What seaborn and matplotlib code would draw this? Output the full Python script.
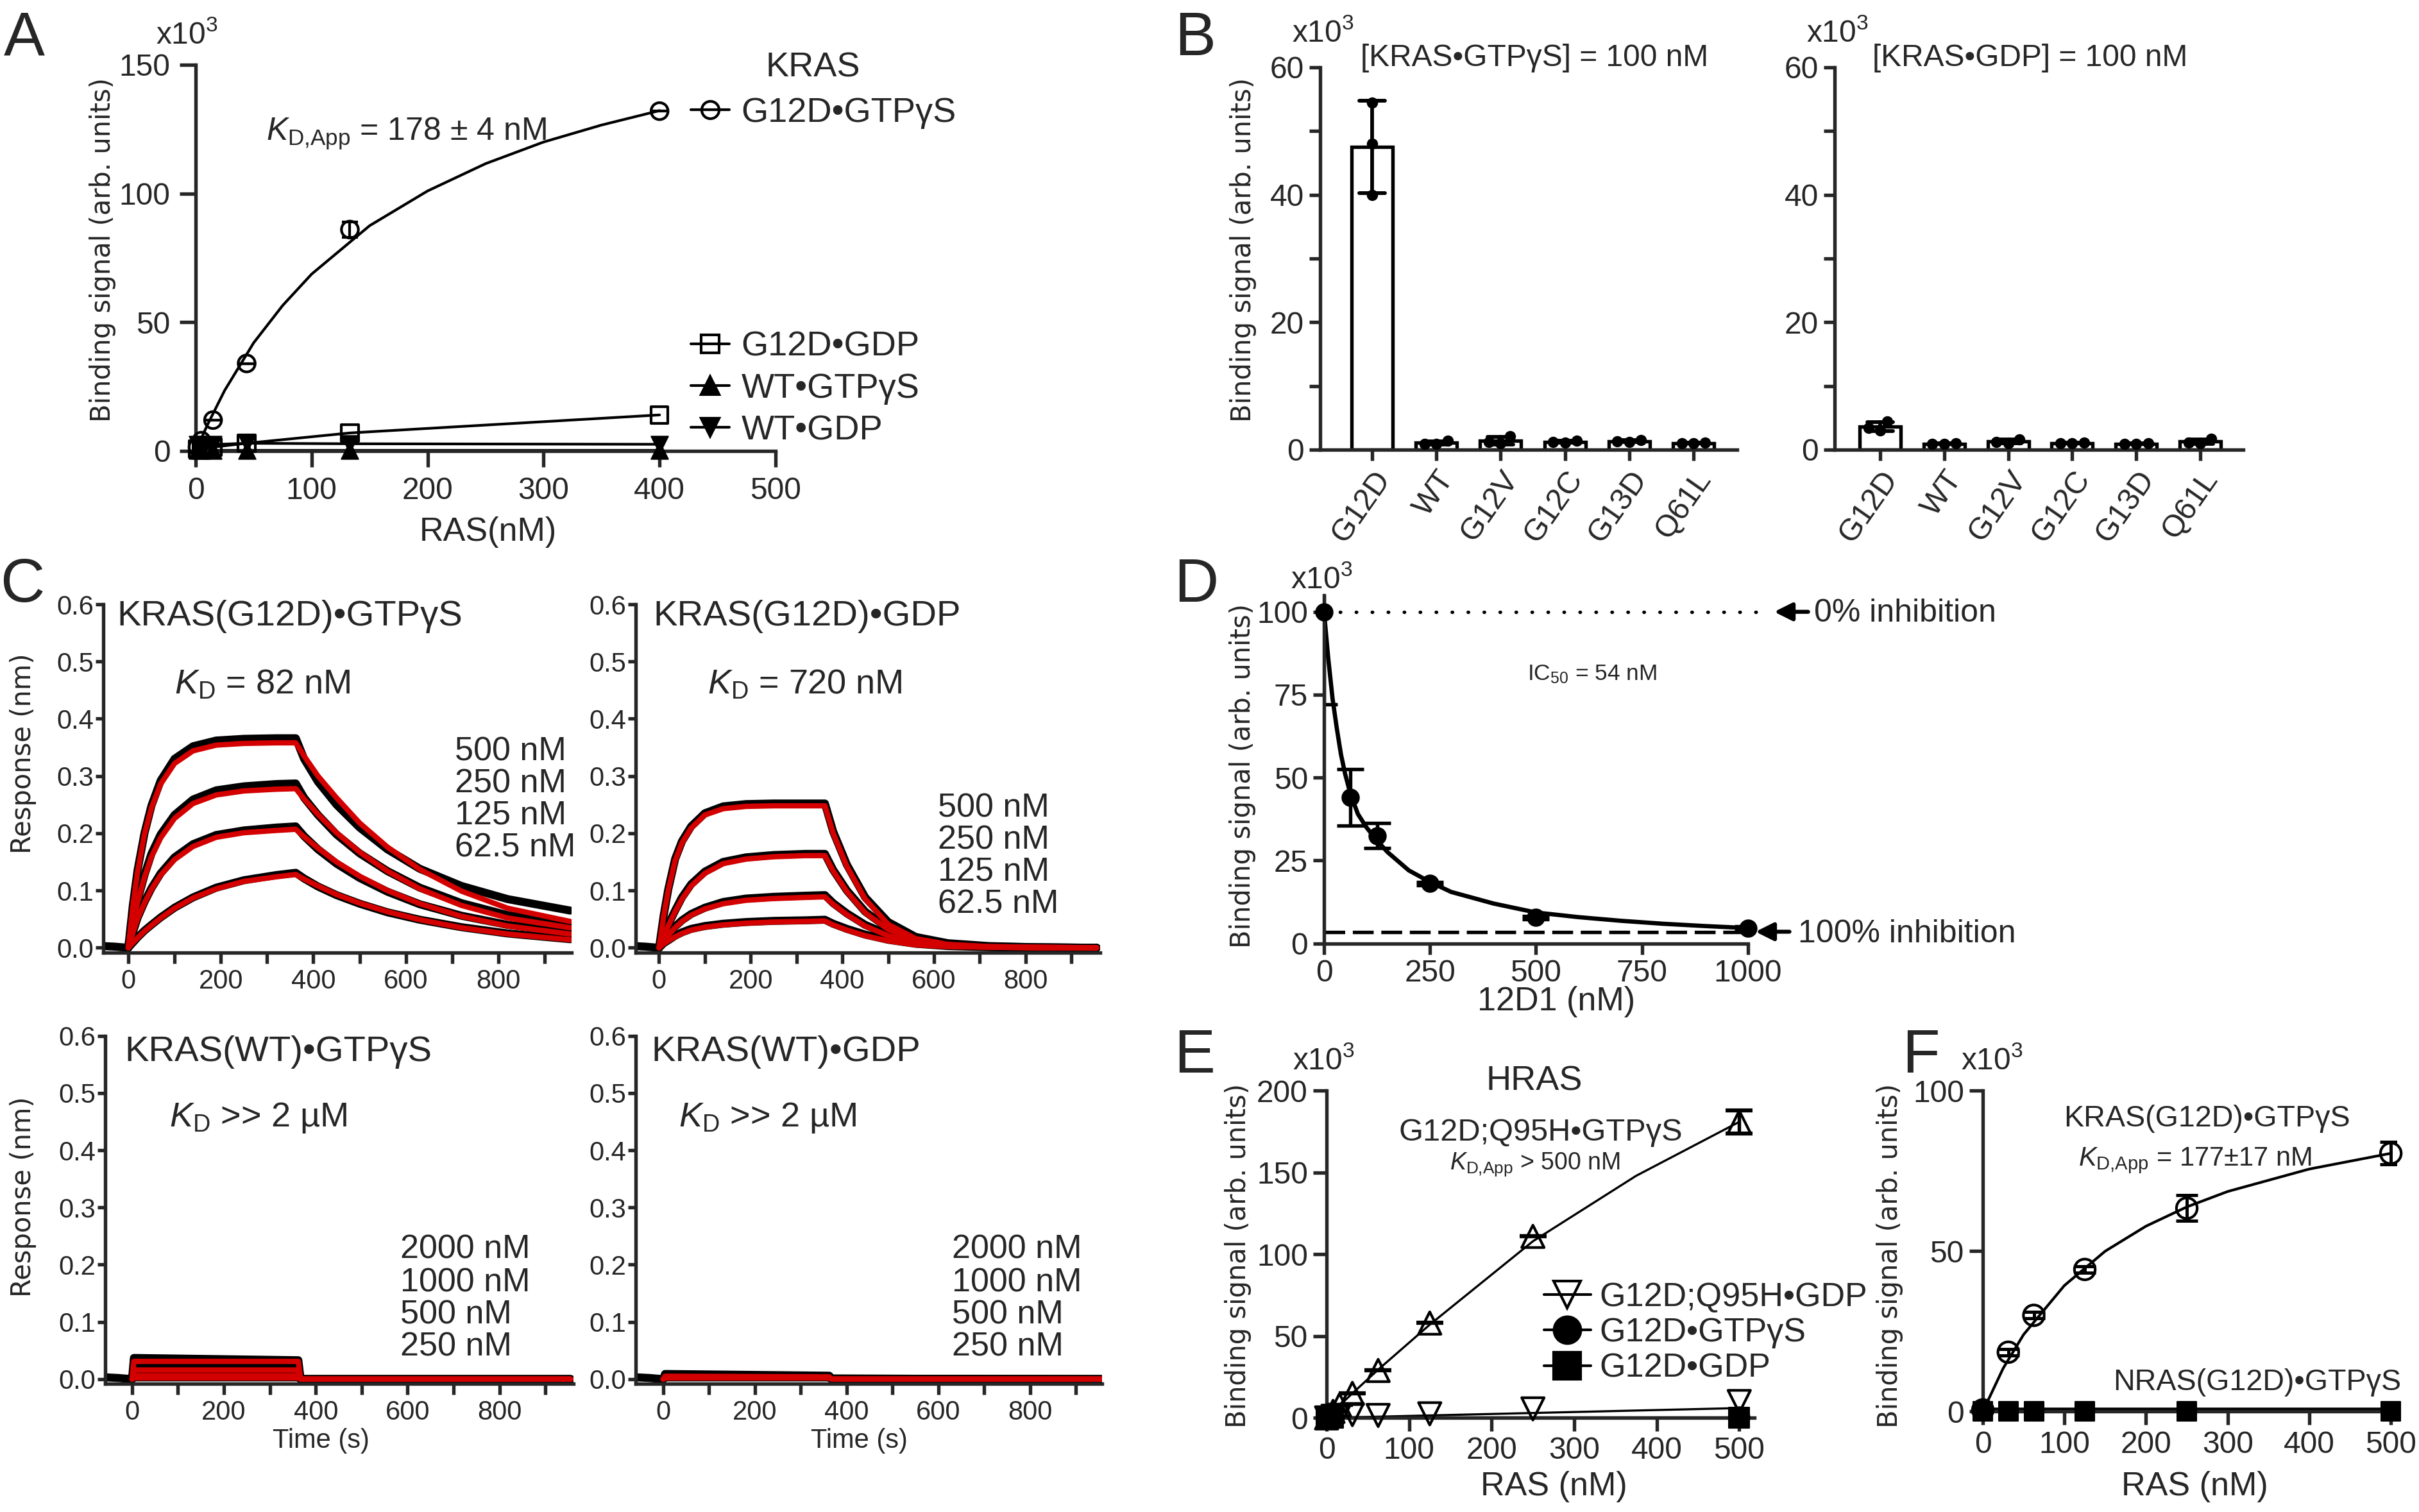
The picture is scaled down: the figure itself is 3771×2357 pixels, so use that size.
import numpy as np
import pandas as pd
import seaborn as sns
import matplotlib
matplotlib.use('Agg')
import matplotlib.pyplot as plt
from matplotlib.lines import Line2D
from matplotlib.ticker import FixedLocator, FuncFormatter, MultipleLocator

W, H = 3771, 2357

# ---------------- A: KRAS binding (x10^3) ----------------
a_ras = [1.6, 5, 15, 44, 133, 400]
a_g12d_gtp = [1.5, 4, 12, 34, 86, 132]
a_g12d_gtp_err = [0, 0, 0, 0, 3, 0]
a_fit_x = [0, 10, 25, 50, 75, 100, 150, 200, 250, 300, 350, 400]
a_fit_y = [0, 10, 23.5, 42, 56.5, 68.7, 87.5, 101, 111.6, 120, 126.6, 132.2]
a_g12d_gdp = [0.8, 1.0, 1.5, 3.0, 7.0, 14.0]
a_wt_gtp = [0.3, 0.3, 0.3, 0.3, 0.3, 0.3]
a_wt_gdp = [2.5, 2.5, 2.5, 3.0, 2.8, 2.6]

# ---------------- B: bars with replicates (x10^3) ----------------
b_mutants = ['G12D', 'WT', 'G12V', 'G12C', 'G13D', 'Q61L']
b_gtp_reps = [[54.5, 48.0, 40.0], [0.9, 1.4, 0.9], [1.0, 2.1, 1.2],
              [1.1, 1.4, 1.2], [1.2, 1.5, 1.3], [1.0, 1.1, 1.0]]
b_gdp_reps = [[3.0, 3.4, 4.4], [0.9, 1.0, 0.9], [1.0, 1.6, 1.2],
              [1.0, 1.1, 1.0], [0.9, 1.0, 0.9], [1.0, 1.7, 1.1]]

# ---------------- C: BLI sensorgrams (nm) ----------------
c_t = [0, 10, 20, 35, 50, 70, 100, 140, 190, 250, 320, 362,
       380, 410, 450, 500, 560, 630, 720, 820, 955]
c_base_t = [-55, -30, 0]
c_base_y = [0.003, 0.002, 0.0]
c_conc_mut = ['500 nM', '250 nM', '125 nM', '62.5 nM']
c_conc_wt = ['2000 nM', '1000 nM', '500 nM', '250 nM']

# KRAS(G12D)-GTPgS
c1_fit = [
    [0, 0.073, 0.132, 0.198, 0.244, 0.286, 0.322, 0.344, 0.354, 0.357, 0.358, 0.358,
     0.335, 0.300, 0.262, 0.218, 0.176, 0.137, 0.099, 0.069, 0.046],
    [0, 0.043, 0.079, 0.123, 0.159, 0.192, 0.226, 0.252, 0.267, 0.274, 0.277, 0.278,
     0.260, 0.233, 0.201, 0.167, 0.134, 0.103, 0.074, 0.052, 0.035],
    [0, 0.026, 0.050, 0.078, 0.102, 0.127, 0.154, 0.177, 0.193, 0.201, 0.205, 0.207,
     0.194, 0.174, 0.150, 0.125, 0.100, 0.077, 0.055, 0.038, 0.024],
    [0, 0.009, 0.017, 0.029, 0.039, 0.052, 0.069, 0.087, 0.103, 0.116, 0.124, 0.128,
     0.120, 0.108, 0.093, 0.078, 0.063, 0.049, 0.035, 0.024, 0.014],
]
c1_data = [
    [0, 0.075, 0.135, 0.200, 0.248, 0.292, 0.330, 0.352, 0.362, 0.365, 0.366, 0.366,
     0.330, 0.290, 0.250, 0.210, 0.172, 0.138, 0.108, 0.085, 0.065],
    [0, 0.045, 0.082, 0.127, 0.164, 0.198, 0.232, 0.259, 0.275, 0.282, 0.286, 0.287,
     0.262, 0.232, 0.198, 0.165, 0.134, 0.105, 0.078, 0.057, 0.040],
    [0, 0.027, 0.052, 0.080, 0.104, 0.130, 0.158, 0.181, 0.197, 0.205, 0.210, 0.212,
     0.195, 0.172, 0.147, 0.122, 0.098, 0.076, 0.056, 0.040, 0.027],
    [0, 0.009, 0.018, 0.030, 0.040, 0.053, 0.070, 0.088, 0.105, 0.118, 0.127, 0.131,
     0.121, 0.107, 0.092, 0.077, 0.062, 0.049, 0.036, 0.025, 0.015],
]
# KRAS(G12D)-GDP
c2_fit = [
    [0, 0.055, 0.100, 0.152, 0.183, 0.209, 0.232, 0.243, 0.247, 0.248, 0.248, 0.248,
     0.200, 0.142, 0.085, 0.041, 0.016, 0.006, 0.002, 0.001, 0.0],
    [0, 0.020, 0.038, 0.063, 0.085, 0.108, 0.130, 0.147, 0.155, 0.159, 0.161, 0.161,
     0.134, 0.098, 0.061, 0.032, 0.014, 0.005, 0.002, 0.001, 0.0],
    [0, 0.012, 0.022, 0.035, 0.046, 0.057, 0.068, 0.077, 0.083, 0.086, 0.088, 0.089,
     0.076, 0.058, 0.038, 0.021, 0.009, 0.004, 0.001, 0.0, 0.0],
    [0, 0.007, 0.012, 0.019, 0.025, 0.031, 0.036, 0.040, 0.043, 0.045, 0.046, 0.047,
     0.040, 0.031, 0.021, 0.012, 0.005, 0.002, 0.001, 0.0, 0.0],
]
c2_data = [
    [0, 0.056, 0.102, 0.155, 0.186, 0.212, 0.235, 0.247, 0.251, 0.252, 0.252, 0.252,
     0.203, 0.145, 0.088, 0.045, 0.019, 0.008, 0.003, 0.001, 0.0],
    [0, 0.021, 0.040, 0.065, 0.088, 0.111, 0.133, 0.150, 0.158, 0.162, 0.164, 0.164,
     0.136, 0.100, 0.063, 0.034, 0.016, 0.006, 0.002, 0.001, 0.0],
    [0, 0.013, 0.024, 0.037, 0.048, 0.059, 0.070, 0.080, 0.086, 0.089, 0.091, 0.092,
     0.078, 0.060, 0.040, 0.023, 0.011, 0.005, 0.002, 0.0, 0.0],
    [0, 0.008, 0.013, 0.021, 0.027, 0.033, 0.038, 0.042, 0.045, 0.047, 0.048, 0.049,
     0.042, 0.033, 0.023, 0.014, 0.007, 0.003, 0.001, 0.0, 0.0],
]
# KRAS(WT): square pulses
c_wt_t = [0, 4, 362, 367, 955]
c3_fit = [[0, 0.031, 0.031, 0.0, 0.0], [0, 0.016, 0.016, 0.0, 0.0],
          [0, 0.006, 0.006, 0.0, 0.0], [0, 0.002, 0.002, 0.0, 0.0]]
c3_data = [[0, 0.037, 0.033, 0.0, 0.0], [0, 0.021, 0.020, 0.0, 0.0],
           [0, 0.008, 0.007, 0.0, 0.0], [0, 0.003, 0.003, 0.0, 0.0]]
c4_fit = [[0, 0.005, 0.004, 0.0, 0.0], [0, 0.004, 0.003, 0.0, 0.0],
          [0, 0.003, 0.003, 0.0, 0.0], [0, 0.002, 0.002, 0.0, 0.0]]
c4_data = [[0, 0.009, 0.006, 0.001, 0.0], [0, 0.007, 0.005, 0.001, 0.0],
           [0, 0.005, 0.004, 0.0, 0.0], [0, 0.003, 0.003, 0.0, 0.0]]

# ---------------- D: competition with 12D1 (x10^3) ----------------
d_x = [0, 62.5, 125, 250, 500, 1000]
d_y = [100, 44, 32.5, 18, 7.8, 4.6]
d_err = [28, 8.5, 3.7, 0.5, 0.5, 0.5]
d_fit_x = [0, 10, 20, 30, 40, 50, 62.5, 80, 100, 125, 150, 200, 250, 300, 400,
           500, 600, 700, 800, 900, 1000]
d_fit_y = [100, 86, 74, 65, 57, 51, 45, 39, 35, 31, 27.5, 22, 18.5, 15.5, 12,
           9.3, 7.9, 6.8, 5.9, 5.2, 4.6]
d_top, d_bottom = 100, 3.3

# ---------------- E: HRAS (x10^3) ----------------
e_ras = [0, 7.8, 15.6, 31.25, 62.5, 125, 250, 500]
e_q95h_gtp = [0, 4, 8, 15, 29, 58, 111, 181]
e_q95h_gtp_err = [0, 0, 0, 0, 0, 0, 0, 7]
e_fit_x = [0, 31.25, 62.5, 125, 250, 375, 500]
e_fit_y = [0, 15, 29.5, 57, 108, 148, 181]
e_q95h_gdp = [0, 1, 1.5, 2, 1.5, 2.5, 5.5, 10]
e_gdp_fit_x = [0, 250, 500]
e_gdp_fit_y = [0, 3, 6]
e_g12d_ras = [0, 3.9, 7.8, 500]
e_g12d_gtp = [0.5, 0.5, 0.5, 0.5]
e_g12d_gdp = [0.2, 0.2, 0.2, 0.2]

# ---------------- F: KRAS vs NRAS (x10^3) ----------------
f_ras = [0, 31.25, 62.5, 125, 250, 500]
f_kras = [0.5, 18.5, 30, 44.3, 63.4, 80.5]
f_kras_err = [0, 1, 1, 1, 4, 3.5]
f_fit_x = [0, 25, 50, 100, 150, 200, 250, 300, 400, 500]
f_fit_y = [0, 13.5, 24.0, 39.3, 50.0, 57.8, 63.8, 68.6, 75.6, 80.5]
f_nras = [0, 0, 0, 0, 0, 0]

# ---------------- style ----------------
sns.set_style('ticks')
plt.rcParams['font.family'] = ['Liberation Sans', 'DejaVu Sans']
plt.rcParams['mathtext.fontset'] = 'custom'
plt.rcParams['mathtext.rm'] = 'Liberation Sans'
plt.rcParams['mathtext.it'] = 'Liberation Sans:italic'
plt.rcParams['mathtext.default'] = 'regular'

fig = plt.figure(figsize=(W / 300, H / 300), dpi=300)


def fx(px):
    return px / W


def fy(py):
    return 1 - py / H


def add_ax(x0, x1, ytop, ybot):
    return fig.add_axes([x0 / W, 1 - ybot / H, (x1 - x0) / W, (ybot - ytop) / H])


def style(ax, tlen=5, fs=11, lw=1.3, pad=2):
    sns.despine(ax=ax)
    for s in ['left', 'bottom']:
        ax.spines[s].set_linewidth(lw)
    ax.tick_params(direction='out', length=tlen, width=lw, labelsize=fs, pad=pad)
    ax.tick_params(which='minor', direction='out', length=tlen, width=lw)
    ax.set_xlabel('')
    ax.set_ylabel('')


def ylab(x, y, s, fs=10):
    fig.text(fx(x), fy(y), s, rotation=90, ha='center', va='center',
             fontsize=fs, family='DejaVu Sans')


def panel(x, y, s):
    fig.text(fx(x), fy(y), s, fontsize=23, va='baseline', ha='left')


def txt(x, y, s, fs=12, ha='left', va='baseline'):
    fig.text(fx(x), fy(y), s, fontsize=fs, ha=ha, va=va)


def open_pts(ax, x, y, marker, ms=45, lw=1.0):
    sns.scatterplot(x=x, y=y, ax=ax, marker=marker, s=ms, facecolor='none',
                    edgecolor='k', linewidth=lw, zorder=4, clip_on=False)


def filled_pts(ax, x, y, marker, ms=45):
    sns.scatterplot(x=x, y=y, ax=ax, marker=marker, s=ms, color='k',
                    edgecolor='k', linewidth=0.5, zorder=4, clip_on=False)


KD_APP = r'$\mathit{K}_{\mathrm{D{,}App}}$'

# ================= A =================
ax = add_ax(305, 1209, 101, 703)
sns.lineplot(x=a_fit_x, y=a_fit_y, ax=ax, color='k', lw=1.0, estimator=None)
sns.lineplot(x=a_ras, y=a_g12d_gdp, ax=ax, color='k', lw=1.0, estimator=None)
sns.lineplot(x=a_ras, y=a_wt_gdp, ax=ax, color='k', lw=1.0, estimator=None)
sns.lineplot(x=a_ras, y=a_wt_gtp, ax=ax, color='k', lw=1.0, estimator=None)
ax.errorbar(a_ras, a_g12d_gtp, yerr=a_g12d_gtp_err, fmt='none', ecolor='k',
            elinewidth=1.0, capsize=3, capthick=1.0)
open_pts(ax, a_ras, a_g12d_gtp, 'o', ms=40)
open_pts(ax, a_ras, a_g12d_gdp, 's', ms=40)
filled_pts(ax, a_ras, a_wt_gtp, '^', ms=40)
filled_pts(ax, a_ras, a_wt_gdp, 'v', ms=40)
ax.set_xlim(0, 500)
ax.set_ylim(0, 150)
ax.set_xticks([0, 100, 200, 300, 400, 500])
ax.set_yticks([0, 50, 100, 150])
style(ax, tlen=6, fs=11.5, pad=3.5)
txt(243, 68, r'x10$^{3}$', fs=11.5)
txt(415, 219, KD_APP + ' = 178 ± 4 nM', fs=12)
txt(1267, 120, 'KRAS', fs=13, ha='center')
h1 = [Line2D([], [], color='k', lw=1.0, marker='o', mfc='none', mec='k', ms=6.5)]
leg1 = ax.legend(h1, ['G12D•GTPγS'], loc='center left',
                 bbox_to_anchor=(fx(1077), fy(176)), bbox_transform=fig.transFigure,
                 frameon=False, handlelength=1.1, handletextpad=0.35, borderpad=0,
                 borderaxespad=0, fontsize=13)
ax.add_artist(leg1)
h2 = [Line2D([], [], color='k', lw=1.0, marker='s', mfc='none', mec='k', ms=6.5),
      Line2D([], [], color='k', lw=1.0, marker='^', mfc='k', mec='k', ms=6.5),
      Line2D([], [], color='k', lw=1.0, marker='v', mfc='k', mec='k', ms=6.5)]
ax.legend(h2, ['G12D•GDP', 'WT•GTPγS', 'WT•GDP'], loc='center left',
          bbox_to_anchor=(fx(1077), fy(606)), bbox_transform=fig.transFigure,
          frameon=False, handlelength=1.1, handletextpad=0.35, borderpad=0,
          borderaxespad=0, labelspacing=0.28, fontsize=13)
fig.text(fx(761), fy(829), 'RAS(nM)', ha='center', va='center', fontsize=12.5)
ylab(160, 390, 'Binding signal (arb. units)')
panel(6, 86, 'A')

# ================= B =================
for reps, box, xl, title, tx in [
        (b_gtp_reps, (2058, 2708), (-0.81, 5.68), '[KRAS•GTPγS] = 100 nM', 2121),
        (b_gdp_reps, (2860, 3497), (-0.71, 5.67), '[KRAS•GDP] = 100 nM', 2919)]:
    rows = [(m, v) for m, vals in zip(b_mutants, reps) for v in vals]
    df = pd.DataFrame(rows, columns=['mutant', 'signal'])
    ax = add_ax(box[0], box[1], 105, 701)
    sns.barplot(data=df, x='mutant', y='signal', ax=ax, errorbar='sd',
                capsize=0.4, width=0.64, color='white', edgecolor='k', linewidth=1.3,
                err_kws={'color': 'k', 'linewidth': 1.4})
    sns.swarmplot(data=df, x='mutant', y='signal', ax=ax, color='k', size=4.2)
    ax.set_xlim(*xl)
    ax.set_ylim(0, 60)
    ax.set_yticks([0, 20, 40, 60])
    ax.yaxis.set_minor_locator(FixedLocator([10, 30, 50]))
    style(ax, tlen=4, fs=11.5)
    ax.tick_params(axis='x', length=4)
    for lab in ax.get_xticklabels():
        lab.set_rotation(55)
        lab.set_ha('right')
        lab.set_rotation_mode('anchor')
    txt(tx, 103, title, fs=11.5)
    txt(box[0] - 44, 65, r'x10$^{3}$', fs=11.5)
ylab(1938, 390, 'Binding signal (arb. units)')
panel(1831, 86, 'B')

# ================= C =================
c_panels = [
    ((161, 891, 942, 1484.6), (-54, 958), c_t, c1_data, c1_fit,
     'KRAS(G12D)•GTPγS', r'$\mathit{K}_{\mathrm{D}}$ = 82 nM', c_conc_mut,
     (182, 975), (272, 1082), 709, [1185, 1235, 1285, 1336], None),
    ((991, 1714.5, 942, 1484.6), (-51, 962), c_t, c2_data, c2_fit,
     'KRAS(G12D)•GDP', r'$\mathit{K}_{\mathrm{D}}$ = 720 nM', c_conc_mut,
     (1018, 975), (1103, 1082), 1462, [1273, 1324, 1374, 1424], None),
    ((163.6, 894, 1614.7, 2157), (-59, 961), c_wt_t, c3_data, c3_fit,
     'KRAS(WT)•GTPγS', r'$\mathit{K}_{\mathrm{D}}$ >> 2 µM', c_conc_wt,
     (194, 1654), (264, 1756), 624, [1962, 2013, 2063, 2113], 500),
    ((991, 1718, 1614.7, 2157), (-60, 957), c_wt_t, c4_data, c4_fit,
     'KRAS(WT)•GDP', r'$\mathit{K}_{\mathrm{D}}$ >> 2 µM', c_conc_wt,
     (1015, 1654), (1058, 1756), 1484, [1962, 2013, 2063, 2113], 1339),
]
for (box, xl, tt, data, fit, title, kd, concs, tpos, kpos, cx, cys, time_x) in c_panels:
    ax = add_ax(*box)
    sns.lineplot(x=c_base_t, y=c_base_y, ax=ax, color='k', lw=3.0, estimator=None)
    for ys in data:
        sns.lineplot(x=tt, y=ys, ax=ax, color='k', lw=3.0, estimator=None)
    for ys in fit:
        sns.lineplot(x=tt, y=ys, ax=ax, color='#d40000', lw=2.0, estimator=None)
    ax.set_xlim(*xl)
    ax.set_ylim(-0.008, 0.6)
    ax.xaxis.set_major_locator(MultipleLocator(100))
    ax.xaxis.set_major_formatter(FuncFormatter(
        lambda v, p: f'{v:.0f}' if round(v) % 200 == 0 and v >= 0 else ''))
    ax.set_yticks([0, 0.1, 0.2, 0.3, 0.4, 0.5, 0.6])
    ax.yaxis.set_major_formatter(FuncFormatter(lambda v, p: f'{v:.1f}'))
    style(ax, tlen=4, fs=10)
    ax.tick_params(axis='y', length=3, pad=0.5)
    txt(tpos[0], tpos[1], title, fs=13.5)
    txt(kpos[0], kpos[1], kd, fs=13)
    for c, cyy in zip(concs, cys):
        txt(cx, cyy, c, fs=12.5)
    if time_x is not None:
        fig.text(fx(time_x), fy(2246), 'Time (s)', ha='center', va='center',
                 fontsize=10)
ylab(36, 1175, 'Response (nm)')
ylab(36, 1866, 'Response (nm)')
panel(0, 938, 'C')

# ================= D =================
ax = add_ax(2064, 2724.8, 927.9, 1470.5)
sns.lineplot(x=d_fit_x, y=d_fit_y, ax=ax, color='k', lw=1.6, estimator=None)
ax.plot([0, 1038], [d_top, d_top], color='k', lw=1.3,
        ls=(0, (0.1, 4.5)), dash_capstyle='round', clip_on=False)
ax.plot([0, 1000], [d_bottom, d_bottom], color='k', lw=1.3, ls=(0, (6, 2.2)))
ax.errorbar(d_x, d_y, yerr=d_err, fmt='none', ecolor='k', elinewidth=1.3,
            capsize=5, capthick=1.3)
filled_pts(ax, d_x, d_y, 'o', ms=40)
ax.set_xlim(0, 1000)
ax.set_ylim(0, 105)
ax.set_xticks([0, 250, 500, 750, 1000])
ax.set_yticks([0, 25, 50, 75, 100])
style(ax, tlen=4, fs=11.5)
ax.annotate('', xy=(1062, d_top), xytext=(1142, d_top), annotation_clip=False,
            arrowprops=dict(arrowstyle='-|>', color='k', lw=1.5,
                            mutation_scale=14, shrinkA=0, shrinkB=0))
ax.annotate('', xy=(1018, 3.5), xytext=(1098, 3.5), annotation_clip=False,
            arrowprops=dict(arrowstyle='-|>', color='k', lw=1.5,
                            mutation_scale=14, shrinkA=0, shrinkB=0))
txt(2828, 969, '0% inhibition', fs=12)
txt(2803, 1469, '100% inhibition', fs=12)
txt(2381, 1060, r'IC$_{50}$ = 54 nM', fs=8.5)
txt(2012, 917, r'x10$^{3}$', fs=11.5)
fig.text(fx(2426), fy(1562), '12D1 (nM)', ha='center', va='center', fontsize=12.5)
ylab(1937, 1210, 'Binding signal (arb. units)')
panel(1830, 938, 'D')

# ================= E =================
ax = add_ax(2068, 2734.5, 1700.4, 2210.3)
sns.lineplot(x=e_fit_x, y=e_fit_y, ax=ax, color='k', lw=0.8, estimator=None)
sns.lineplot(x=e_gdp_fit_x, y=e_gdp_fit_y, ax=ax, color='k', lw=0.8, estimator=None)
sns.lineplot(x=e_g12d_ras, y=e_g12d_gtp, ax=ax, color='k', lw=0.8, estimator=None)
sns.lineplot(x=e_g12d_ras, y=e_g12d_gdp, ax=ax, color='k', lw=0.8, estimator=None)
ax.errorbar(e_ras, e_q95h_gtp, yerr=e_q95h_gtp_err, fmt='none', ecolor='k',
            elinewidth=1.3, capsize=5, capthick=1.5)
open_pts(ax, e_ras, e_q95h_gtp, '^', ms=70)
open_pts(ax, e_ras, e_q95h_gdp, 'v', ms=70)
filled_pts(ax, e_g12d_ras, e_g12d_gtp, 'o', ms=60)
filled_pts(ax, e_g12d_ras, e_g12d_gdp, 's', ms=60)
ax.set_xlim(0, 518)
ax.set_ylim(0, 200)
ax.set_xticks([0, 100, 200, 300, 400, 500])
ax.set_yticks([0, 50, 100, 150, 200])
style(ax, tlen=5, fs=11.5)
he = [Line2D([], [], color='k', lw=1.0, marker='v', mfc='none', mec='k', ms=10),
      Line2D([], [], color='k', lw=1.0, marker='o', mfc='k', mec='k', ms=10),
      Line2D([], [], color='k', lw=1.0, marker='s', mfc='k', mec='k', ms=10)]
ax.legend(he, ['G12D;Q95H•GDP', 'G12D•GTPγS', 'G12D•GDP'], loc='center left',
          bbox_to_anchor=(fx(2407), fy(2078)), bbox_transform=fig.transFigure,
          frameon=False, handlelength=1.4, handletextpad=0.25, borderpad=0,
          borderaxespad=0, labelspacing=0.12, fontsize=12.5)
txt(2392, 1699, 'HRAS', fs=13, ha='center')
txt(2402, 1778, 'G12D;Q95H•GTPγS', fs=11.7, ha='center')
txt(2260, 1823, KD_APP + ' > 500 nM', fs=9)
txt(2015, 1667, r'x10$^{3}$', fs=11.5)
fig.text(fx(2422), fy(2318), 'RAS (nM)', ha='center', va='center', fontsize=12.5)
ylab(1930, 1957, 'Binding signal (arb. units)')
panel(1830, 1672, 'E')

# ================= F =================
ax = add_ax(3091, 3736, 1700.4, 2200.4)
sns.lineplot(x=f_fit_x, y=f_fit_y, ax=ax, color='k', lw=1.0, estimator=None)
sns.lineplot(x=f_ras, y=f_nras, ax=ax, color='k', lw=3.0, estimator=None)
ax.errorbar(f_ras, f_kras, yerr=f_kras_err, fmt='none', ecolor='k',
            elinewidth=1.2, capsize=4, capthick=1.2)
open_pts(ax, f_ras, f_kras, 'o', ms=60)
filled_pts(ax, f_ras, f_nras, 's', ms=50)
ax.set_xlim(0, 507)
ax.set_ylim(0, 100)
ax.set_xticks([0, 100, 200, 300, 400, 500])
ax.set_yticks([0, 50, 100])
style(ax, tlen=5, fs=11.5)
txt(3440, 1756, 'KRAS(G12D)•GTPγS', fs=11.2, ha='center')
txt(3240, 1817, KD_APP + ' = 177±17 nM', fs=10)
txt(3743, 2167, 'NRAS(G12D)•GTPγS', fs=11.2, ha='right')
txt(3057, 1667, r'x10$^{3}$', fs=11.5)
fig.text(fx(3421), fy(2318), 'RAS (nM)', ha='center', va='center', fontsize=12.5)
ylab(2946, 1957, 'Binding signal (arb. units)')
panel(2965, 1672, 'F')

fig.savefig('out.png', dpi=300)
plt.close(fig)
